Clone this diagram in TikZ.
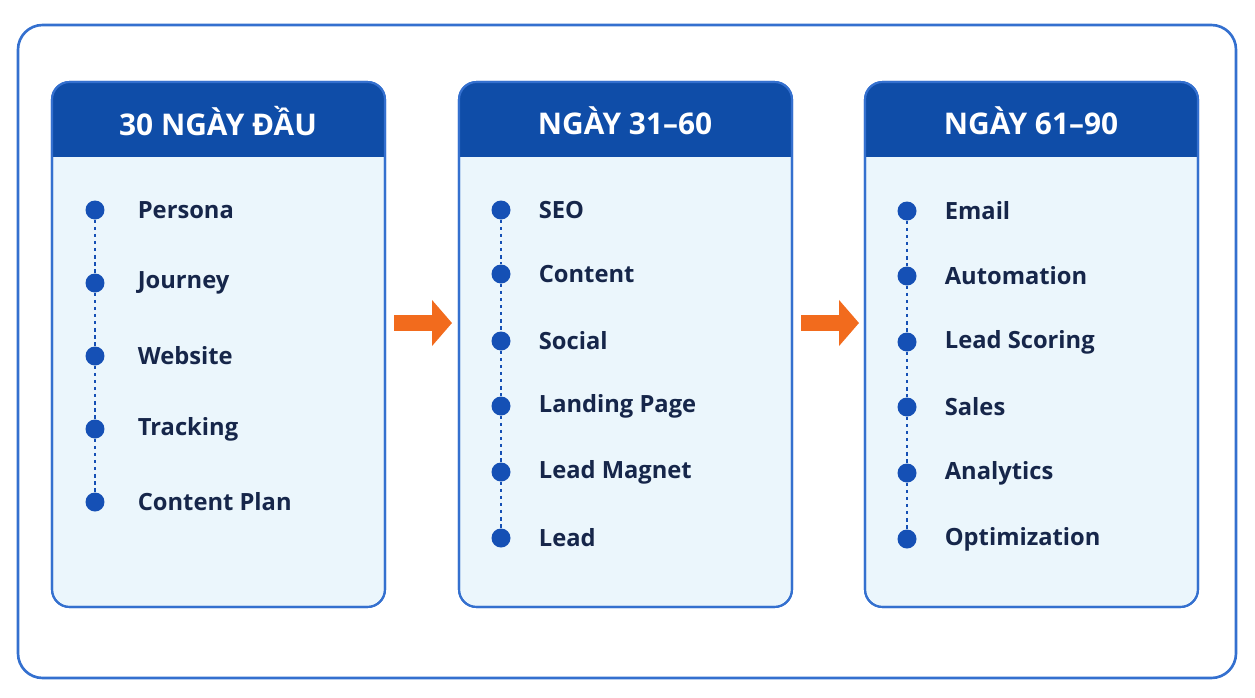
\documentclass[tikz,border=0pt]{standalone}
\usepackage{fontspec}
\setmainfont{Open Sans}
\usetikzlibrary{positioning, arrows.meta}
\definecolor{hdrblue}{HTML}{0F4DA8}
\definecolor{edgeblue}{HTML}{3470CF}
\definecolor{panelfill}{HTML}{EBF6FC}
\definecolor{inktext}{HTML}{16264A}
\definecolor{dotblue}{HTML}{1550B5}
\definecolor{arroworange}{HTML}{F26B1D}
\tikzset{
x=0.02cm, y=-0.02cm, % pixel grid
panel/.style={draw=edgeblue, line width=1.2pt, fill=panelfill, rounded corners=10pt},
title/.style={text=white, font=\bfseries\fontsize{17}{20}\selectfont},
dot/.style={circle, fill=dotblue, inner sep=0pt, minimum size=0.38cm},
item/.style={right, text=inktext, font=\bfseries\fontsize{13.5}{16}\selectfont, inner sep=0pt},
link/.style={draw=dotblue, line width=0.7pt, dash pattern=on 2pt off 2pt},
phasearrow/.style={-{Triangle[length=0.4cm, width=0.9cm]}, draw=arroworange, line width=0.32cm},
}
\begin{document}
\begin{tikzpicture}
\useasboundingbox (0,0) rectangle (1255,697);
\draw[draw=edgeblue, line width=1.5pt, rounded corners=14pt] (18,25) rectangle (1236,678);
% three phases
\foreach \i/\xl/\txt in {1/52/30 NGÀY ĐẦU, 2/459/NGÀY 31–60, 3/865/NGÀY 61–90} {
  \draw[panel] (\xl,82) rectangle (\xl+333,607);
  \begin{scope}
    \clip[rounded corners=10pt] (\xl,82) rectangle (\xl+333,607);
    \fill[hdrblue] (\xl,82) rectangle (\xl+333,157);
  \end{scope}
  \draw[edgeblue, line width=1.2pt, rounded corners=10pt] (\xl,82) rectangle (\xl+333,607);
  \node[title] (h\i) at (\xl+166,121) {\txt};
}
% phase 1
\foreach \k/\yy in {1/210, 2/283, 3/356, 4/429, 5/502}
  \node[dot] (a\k) at (95,\yy) {};
\foreach \k/\txt in {1/Persona, 2/Journey, 3/Website, 4/Tracking, 5/Content Plan}
  \node[item] at ([xshift=0.85cm]a\k) {\txt};
\foreach \k/\n in {1/2, 2/3, 3/4, 4/5} \draw[link] (a\k) -- (a\n);
% phase 2
\foreach \k/\yy in {1/210, 2/274, 3/341, 4/406, 5/472, 6/538}
  \node[dot] (b\k) at (501,\yy) {};
\foreach \k/\txt in {1/SEO, 2/Content, 3/Social, 4/Landing Page, 5/Lead Magnet, 6/Lead}
  \node[item] at ([xshift=0.75cm]b\k) {\txt};
\foreach \k/\n in {1/2, 2/3, 3/4, 4/5, 5/6} \draw[link] (b\k) -- (b\n);
% phase 3
\foreach \k/\yy in {1/211, 2/276, 3/342, 4/407, 5/473, 6/539}
  \node[dot] (c\k) at (907,\yy) {};
\foreach \k/\txt in {1/Email, 2/Automation, 3/Lead Scoring, 4/Sales, 5/Analytics, 6/Optimization}
  \node[item] at ([xshift=0.75cm]c\k) {\txt};
\foreach \k/\n in {1/2, 2/3, 3/4, 4/5, 5/6} \draw[link] (c\k) -- (c\n);
% arrows between phases
\coordinate (s1) at (394,323); \coordinate (e1) at (452,323);
\coordinate (s2) at (801,323); \coordinate (e2) at (859,323);
\draw[phasearrow] (s1) -- (e1);
\draw[phasearrow] (s2) -- (e2);
\end{tikzpicture}
\end{document}
